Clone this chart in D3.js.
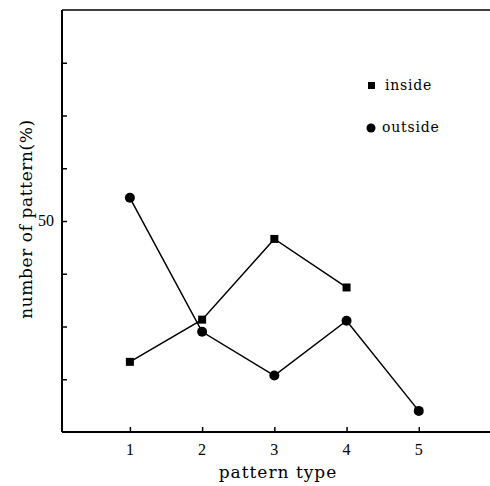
<!DOCTYPE html>
<style>
body { margin: 0; background: #fff; }
text { font-family: "DejaVu Serif", "Liberation Serif", serif; fill: #000; }
.num { font-family: "Liberation Serif", "DejaVu Serif", serif; }
.axis path, .axis line { stroke: #000; }
</style>
<body>
<script src="https://d3js.org/d3.v7.min.js"></script>
<script>
var patternTypes = [1, 2, 3, 4, 5];
var insideValues = [23.3, 31.3, 46.6, 37.4];
var outsideValues = [54.4, 29.0, 20.7, 31.1, 14.0];
var yTickValues = [20, 30, 40, 50, 60, 70, 80];
var yTickLabels = {50: "50"};

var width = 490, height = 486;

var svg = d3.select("body").append("svg")
    .attr("width", width)
    .attr("height", height);

var x = d3.scaleLinear().domain([0.06, 6]).range([62, 491]);
var y = d3.scaleLinear().domain([10, 90]).range([432, 10]);

// top line of the frame
svg.append("line")
    .attr("x1", x(0.06)).attr("x2", width)
    .attr("y1", y(90)).attr("y2", y(90))
    .attr("stroke", "#000").attr("stroke-width", 1.5);

var yAxis = svg.append("g")
    .attr("class", "axis")
    .attr("transform", "translate(" + x(0.06) + ",0)")
    .call(d3.axisRight(y).tickValues(yTickValues).tickSize(5)
      .tickFormat(function(d) { return ""; }));
yAxis.select(".domain").attr("stroke-width", 2).attr("d", "M0," + y(10) + "V" + y(90));
yAxis.selectAll(".tick line").attr("stroke-width", 1.5);

svg.selectAll(".ylab")
    .data(yTickValues.filter(function(d) { return yTickLabels[d]; }))
    .enter().append("text")
    .attr("class", "ylab num")
    .attr("x", 54)
    .attr("y", function(d) { return y(d) + 5; })
    .attr("text-anchor", "end")
    .attr("font-size", 16)
    .text(function(d) { return yTickLabels[d]; });

var xAxis = svg.append("g")
    .attr("class", "axis")
    .attr("transform", "translate(0," + y(10) + ")")
    .call(d3.axisTop(x).tickValues(patternTypes).tickSize(5).tickFormat(""));
xAxis.select(".domain").attr("stroke-width", 2).attr("d", "M" + x(0.06) + ",0H" + width);
xAxis.selectAll(".tick line").attr("stroke-width", 1.5);

svg.selectAll(".xlab")
    .data(patternTypes)
    .enter().append("text")
    .attr("class", "xlab num")
    .attr("x", function(d) { return x(d); })
    .attr("y", 455)
    .attr("text-anchor", "middle")
    .attr("font-size", 16)
    .text(function(d) { return d; });

svg.append("text")
    .attr("x", 278)
    .attr("y", 478)
    .attr("text-anchor", "middle")
    .attr("font-size", 17)
    .attr("letter-spacing", 1)
    .text("pattern type");

svg.append("text")
    .attr("transform", "translate(32,219) rotate(-90)")
    .attr("text-anchor", "middle")
    .attr("font-size", 17)
    .attr("letter-spacing", 0.6)
    .text("number of pattern(%)");

var line = d3.line()
    .x(function(d) { return x(d[0]); })
    .y(function(d) { return y(d[1]); });

var insideData = insideValues.map(function(v, i) { return [patternTypes[i], v]; });
var outsideData = outsideValues.map(function(v, i) { return [patternTypes[i], v]; });

svg.append("path").datum(insideData)
    .attr("d", line).attr("fill", "none").attr("stroke", "#000").attr("stroke-width", 1.5);
svg.append("path").datum(outsideData)
    .attr("d", line).attr("fill", "none").attr("stroke", "#000").attr("stroke-width", 1.5);

svg.selectAll(".sq").data(insideData).enter().append("rect")
    .attr("x", function(d) { return x(d[0]) - 4; })
    .attr("y", function(d) { return y(d[1]) - 4; })
    .attr("width", 8).attr("height", 8).attr("fill", "#000");

svg.selectAll(".dot").data(outsideData).enter().append("circle")
    .attr("cx", function(d) { return x(d[0]); })
    .attr("cy", function(d) { return y(d[1]); })
    .attr("r", 5).attr("fill", "#000");

// legend
svg.append("rect").attr("x", 368).attr("y", 82).attr("width", 7).attr("height", 7).attr("fill", "#000");
svg.append("text").attr("x", 385).attr("y", 90).attr("font-size", 14).attr("letter-spacing", 0.8).text("inside");
svg.append("circle").attr("cx", 371).attr("cy", 128).attr("r", 4.5).attr("fill", "#000");
svg.append("text").attr("x", 382).attr("y", 132).attr("font-size", 14).attr("letter-spacing", 0.8).text("outside");
</script>
</body>
